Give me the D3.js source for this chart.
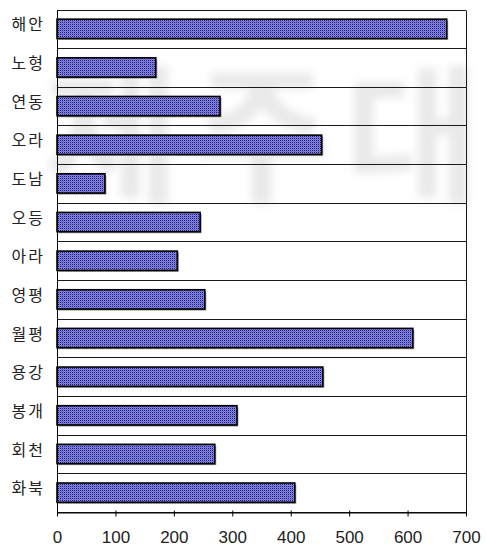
<!DOCTYPE html>
<html>
<head>
<meta charset="utf-8">
<script src="https://cdn.jsdelivr.net/npm/d3@7"></script>
<style>
  html, body { margin: 0; padding: 0; background: #fff; }
  svg { display: block; }
</style>
</head>
<body>
<div id="chart"></div>
<script>
// Categories (top to bottom) and their values
const categories = ["해안", "노형", "연동", "오라", "도남", "오등", "아라", "영평", "월평", "용강", "봉개", "회천", "화북"];
const values = [667, 169, 279, 453, 82, 245, 206, 253, 609, 455, 308, 270, 407];
const tickValues = [0, 100, 200, 300, 400, 500, 600, 700];
const watermarkChars = ["제", "주", "대"];

const W = 486, H = 552;
const plotLeft = 57, plotRight = 466, plotTop = 9.5, plotBottom = 512;

const svg = d3.select("#chart").append("svg")
  .attr("width", W).attr("height", H);

const defs = svg.append("defs");
// dotted bar fill
const pat = defs.append("pattern")
  .attr("id", "dots").attr("patternUnits", "userSpaceOnUse")
  .attr("width", 2).attr("height", 2);
pat.append("rect").attr("width", 2).attr("height", 2).attr("fill", "#8484ec");
pat.append("rect").attr("width", 1).attr("height", 1).attr("fill", "#20205c");
pat.append("rect").attr("x", 1).attr("y", 1).attr("width", 1).attr("height", 1).attr("fill", "#6c6cd0");

const blur = defs.append("filter").attr("id", "soft")
  .attr("x", "-20%").attr("y", "-20%").attr("width", "140%").attr("height", "140%");
blur.append("feGaussianBlur").attr("stdDeviation", 4);

// faint background lettering
const mark = d3.scalePoint().domain(watermarkChars).range([112, 412]);
svg.append("g").attr("filter", "url(#soft)")
  .selectAll("text").data(watermarkChars).join("text")
  .attr("x", d => mark(d)).attr("y", 190)
  .attr("text-anchor", "middle")
  .attr("font-family", "'Noto Sans CJK KR', sans-serif")
  .attr("font-weight", 700)
  .attr("font-size", 148)
  .attr("fill", "#e9e9e9")
  .text(d => d);

const x = d3.scaleLinear().domain([0, 700]).range([plotLeft, plotRight]);
const rows = d3.scaleBand().domain(categories).range([plotTop, plotBottom]).padding(0);
const y = d3.scaleBand().domain(categories).range([plotTop, plotBottom])
  .paddingInner(0.5).paddingOuter(0.25);

// row separators
const seps = d3.range(categories.length + 1).map(i => plotTop + i * rows.step());
svg.append("g").selectAll("line").data(seps).join("line")
  .attr("x1", plotLeft).attr("x2", plotRight)
  .attr("y1", d => Math.round(d) + 0.5).attr("y2", d => Math.round(d) + 0.5)
  .attr("stroke", "#1a1a1a").attr("stroke-width", 1);

// right border
svg.append("line")
  .attr("x1", plotRight + 0.5).attr("x2", plotRight + 0.5)
  .attr("y1", Math.round(plotTop) + 0.5).attr("y2", Math.round(plotBottom) + 0.5)
  .attr("stroke", "#1a1a1a");

// bars with a light drop shadow
const bars = svg.append("g");
bars.selectAll("rect.shadow").data(values).join("rect")
  .attr("class", "shadow")
  .attr("x", x(0) + 1.5)
  .attr("y", (d, i) => y(categories[i]) + 1.5)
  .attr("width", d => x(d) - x(0))
  .attr("height", y.bandwidth())
  .attr("fill", "#9a9a9a");
bars.selectAll("rect.bar").data(values).join("rect")
  .attr("class", "bar")
  .attr("x", x(0))
  .attr("y", (d, i) => y(categories[i]))
  .attr("width", d => x(d) - x(0))
  .attr("height", y.bandwidth())
  .attr("fill", "url(#dots)")
  .attr("stroke", "#000").attr("stroke-width", 1.6);

// x axis
const xAxis = svg.append("g")
  .attr("transform", `translate(0,${Math.round(plotBottom) + 0.5})`)
  .call(d3.axisBottom(x).tickValues(tickValues).tickSize(4).tickPadding(14).tickSizeOuter(0));
xAxis.select(".domain").attr("stroke", "#000");
xAxis.selectAll(".tick line").attr("stroke", "#000").attr("y1", -2);
xAxis.selectAll(".tick text")
  .attr("font-family", "'Liberation Sans', Arial, sans-serif")
  .attr("font-size", 17).attr("fill", "#222");

// y axis line
svg.append("line")
  .attr("x1", plotLeft + 0.5).attr("x2", plotLeft + 0.5)
  .attr("y1", Math.round(plotTop) + 0.5).attr("y2", Math.round(plotBottom) + 3)
  .attr("stroke", "#000");

// category labels
svg.append("g").selectAll("text").data(categories).join("text")
  .attr("x", 45)
  .attr("y", d => rows(d) + rows.bandwidth() / 2 - 4)
  .attr("dy", "0.35em")
  .attr("text-anchor", "end")
  .attr("font-family", "'Noto Sans CJK KR', sans-serif")
  .attr("font-size", 16)
  .attr("letter-spacing", 2)
  .attr("fill", "#222")
  .text(d => d);
</script>
</body>
</html>
